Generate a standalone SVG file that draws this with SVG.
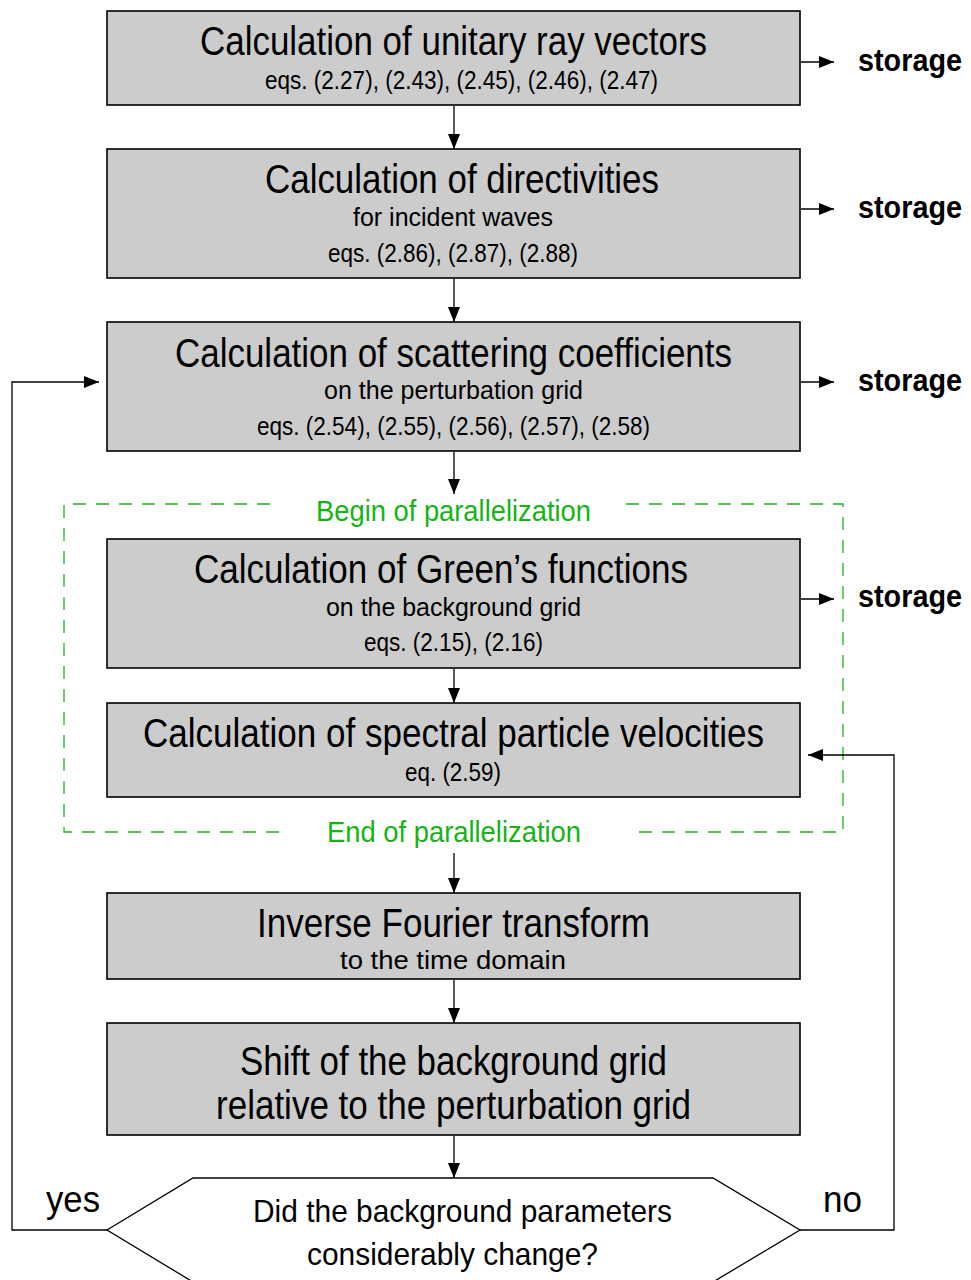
<svg xmlns="http://www.w3.org/2000/svg" width="971" height="1280" viewBox="0 0 971 1280">
<style>
.box{fill:#cccccc;stroke:#000;stroke-width:1.6}
.dec{fill:#fff;stroke:#000;stroke-width:1.3}
.t{font-family:"Liberation Sans",Arial,sans-serif;font-size:40px;fill:#000;text-anchor:middle}
.s{font-family:"Liberation Sans",Arial,sans-serif;font-size:26px;fill:#000;text-anchor:middle}
.g{font-family:"Liberation Sans",Arial,sans-serif;font-size:30px;fill:#14b414;text-anchor:middle}
.q{font-family:"Liberation Sans",Arial,sans-serif;font-size:32px;fill:#000;text-anchor:middle}
.yn{font-family:"Liberation Sans",Arial,sans-serif;font-size:36px;fill:#000}
.st{font-family:"Liberation Sans",Arial,sans-serif;font-size:31px;font-weight:bold;fill:#000}
.c{fill:none;stroke:#000;stroke-width:1.3}
.dash{fill:none;stroke:#1db31d;stroke-width:1.3;stroke-dasharray:13 10}
</style>
<defs>
<marker id="ah" markerUnits="userSpaceOnUse" markerWidth="16" markerHeight="12" refX="15" refY="6" orient="auto">
<path d="M0,0 L15,6 L0,12 Z" fill="#000"/>
</marker>
</defs>

<g id="parallel-region">
<path class="dash" d="M270,504 H64 V832 H283"/>
<path class="dash" d="M626,504 H843 V832 H638"/>
<text class="g" x="453.5" y="521" textLength="275" lengthAdjust="spacingAndGlyphs">Begin of parallelization</text>
<text class="g" x="454" y="842" textLength="254" lengthAdjust="spacingAndGlyphs">End of parallelization</text>
</g>

<g id="connectors">
<line class="c" x1="454" y1="106" x2="454" y2="149" marker-end="url(#ah)"/>
<line class="c" x1="454" y1="279" x2="454" y2="322" marker-end="url(#ah)"/>
<line class="c" x1="454" y1="452" x2="454" y2="494" marker-end="url(#ah)"/>
<line class="c" x1="454" y1="669" x2="454" y2="703" marker-end="url(#ah)"/>
<line class="c" x1="454" y1="853" x2="454" y2="893" marker-end="url(#ah)"/>
<line class="c" x1="454" y1="980" x2="454" y2="1023" marker-end="url(#ah)"/>
<line class="c" x1="454" y1="1136" x2="454" y2="1178" marker-end="url(#ah)"/>
<line class="c" x1="801" y1="62" x2="834" y2="62" marker-end="url(#ah)"/>
<line class="c" x1="801" y1="209" x2="834" y2="209" marker-end="url(#ah)"/>
<line class="c" x1="801" y1="382" x2="834" y2="382" marker-end="url(#ah)"/>
<line class="c" x1="801" y1="599" x2="834" y2="599" marker-end="url(#ah)"/>
<polyline class="c" points="107,1230 12,1230 12,382 99,382" marker-end="url(#ah)"/>
<polyline class="c" points="800,1230 894,1230 894,755 808,755" marker-end="url(#ah)"/>
<text class="yn" x="46" y="1212" textLength="54" lengthAdjust="spacingAndGlyphs">yes</text>
<text class="yn" x="823" y="1212" textLength="39" lengthAdjust="spacingAndGlyphs">no</text>
</g>

<g id="n1">
<rect class="box" x="107" y="11" width="693" height="94"/>
<text class="t" x="453.5" y="55" textLength="507" lengthAdjust="spacingAndGlyphs">Calculation of unitary ray vectors</text>
<text class="s" x="461.5" y="89" textLength="393" lengthAdjust="spacingAndGlyphs">eqs. (2.27), (2.43), (2.45), (2.46), (2.47)</text>
<text class="st" x="858" y="71" textLength="104" lengthAdjust="spacingAndGlyphs">storage</text>
</g>

<g id="n2">
<rect class="box" x="107" y="149" width="693" height="129"/>
<text class="t" x="462" y="193" textLength="394" lengthAdjust="spacingAndGlyphs">Calculation of directivities</text>
<text class="s" x="453" y="226" textLength="200" lengthAdjust="spacingAndGlyphs">for incident waves</text>
<text class="s" x="453" y="262" textLength="250" lengthAdjust="spacingAndGlyphs">eqs. (2.86), (2.87), (2.88)</text>
<text class="st" x="858" y="218" textLength="104" lengthAdjust="spacingAndGlyphs">storage</text>
</g>

<g id="n3">
<rect class="box" x="107" y="322" width="693" height="129"/>
<text class="t" x="453.5" y="367" textLength="557" lengthAdjust="spacingAndGlyphs">Calculation of scattering coefficients</text>
<text class="s" x="453.5" y="399" textLength="259" lengthAdjust="spacingAndGlyphs">on the perturbation grid</text>
<text class="s" x="453.5" y="435" textLength="393" lengthAdjust="spacingAndGlyphs">eqs. (2.54), (2.55), (2.56), (2.57), (2.58)</text>
<text class="st" x="858" y="391" textLength="104" lengthAdjust="spacingAndGlyphs">storage</text>
</g>

<g id="n4">
<rect class="box" x="107" y="539" width="693" height="129"/>
<text class="t" x="441" y="583" textLength="494" lengthAdjust="spacingAndGlyphs">Calculation of Green’s functions</text>
<text class="s" x="453.5" y="616" textLength="255" lengthAdjust="spacingAndGlyphs">on the background grid</text>
<text class="s" x="453.5" y="651" textLength="179" lengthAdjust="spacingAndGlyphs">eqs. (2.15), (2.16)</text>
<text class="st" x="858" y="607" textLength="104" lengthAdjust="spacingAndGlyphs">storage</text>
</g>

<g id="n5">
<rect class="box" x="107" y="703" width="693" height="94"/>
<text class="t" x="453.5" y="747" textLength="621" lengthAdjust="spacingAndGlyphs">Calculation of spectral particle velocities</text>
<text class="s" x="453" y="781" textLength="96" lengthAdjust="spacingAndGlyphs">eq. (2.59)</text>
</g>

<g id="n6">
<rect class="box" x="107" y="893" width="693" height="86"/>
<text class="t" x="453.5" y="937" textLength="393" lengthAdjust="spacingAndGlyphs">Inverse Fourier transform</text>
<text class="s" x="453" y="969" textLength="226" lengthAdjust="spacingAndGlyphs">to the time domain</text>
</g>

<g id="n7">
<rect class="box" x="107" y="1023" width="693" height="112"/>
<text class="t" x="453.5" y="1075" textLength="427" lengthAdjust="spacingAndGlyphs">Shift of the background grid</text>
<text class="t" x="453.5" y="1119" textLength="475" lengthAdjust="spacingAndGlyphs">relative to the perturbation grid</text>
</g>

<g id="n8">
<polygon class="dec" points="107,1230 193,1178 713,1178 800,1230 713,1282 193,1282"/>
<text class="q" x="462.5" y="1222" textLength="419" lengthAdjust="spacingAndGlyphs">Did the background parameters</text>
<text class="q" x="452.5" y="1265" textLength="291" lengthAdjust="spacingAndGlyphs">considerably change?</text>
</g>
</svg>
